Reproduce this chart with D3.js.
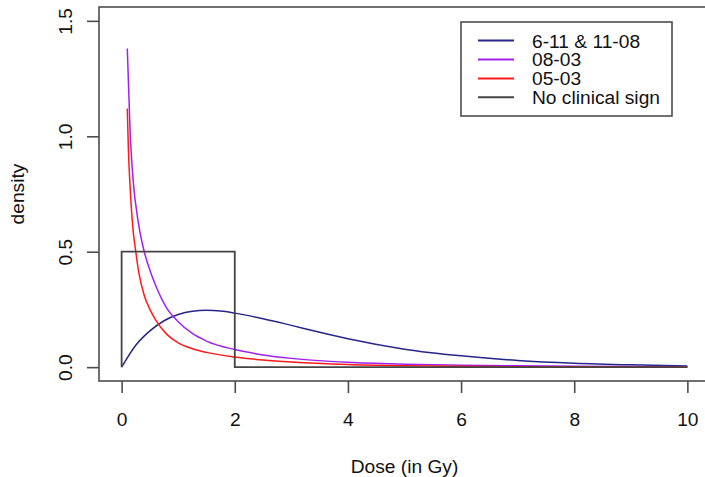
<!DOCTYPE html>
<html>
<head>
<meta charset="utf-8">
<script src="https://cdn.jsdelivr.net/npm/d3@7"></script>
<style>
  body { margin: 0; background: #fff; }
  svg { display: block; font-family: "Liberation Sans", Arial, sans-serif; }
</style>
</head>
<body>
<svg id="chart" width="705" height="477"></svg>
<script>
// values
const blueX = [0, 0.25, 0.5, 0.75, 1, 1.25, 1.5, 1.75, 2, 2.5, 3, 3.5, 4, 5, 6, 7, 8, 9, 10]
const blueY = [0, 0.095, 0.157, 0.201, 0.228, 0.242, 0.246, 0.243, 0.234, 0.21, 0.181, 0.151, 0.123, 0.078, 0.049, 0.029, 0.017, 0.01, 0.0055]

const purpleX = [0.1, 0.15, 0.2, 0.3, 0.4, 0.5, 0.6, 0.8, 1, 1.25, 1.5, 2, 2.5, 3, 4, 5, 6, 7, 8, 9, 10]
const purpleY = [1.38, 1.02, 0.82, 0.62, 0.5, 0.42, 0.355, 0.255, 0.197, 0.146, 0.113, 0.076, 0.053, 0.038, 0.021, 0.013, 0.0085, 0.0058, 0.004, 0.0028, 0.002]

const redX = [0.1, 0.12, 0.15, 0.2, 0.25, 0.3, 0.4, 0.5, 0.6, 0.8, 1, 1.25, 1.5, 2, 2.5, 3, 4, 5, 6, 7, 8, 9, 10]
const redY = [1.12, 0.94, 0.78, 0.6, 0.5, 0.415, 0.31, 0.25, 0.205, 0.142, 0.105, 0.08, 0.064, 0.044, 0.031, 0.022, 0.011, 0.006, 0.0035, 0.002, 0.0012, 0.0008, 0.0005]

const noSignX = [0, 0, 2, 2, 10]
const noSignY = [0, 0.5, 0.5, 0, 0]

const seriesNames = ["6-11 & 11-08", "08-03", "05-03", "No clinical sign"]
const seriesColors = ["#26268a", "#a020f0", "#ff1a1a", "#444444"]

const xTicks = [0, 2, 4, 6, 8, 10]
const yTicks = [0, 0.5, 1, 1.5]

const axisColor = "#4d4d4d"
const fontSize = 19.2

const svg = d3.select("#chart")

// R style: ranges padded by 4%
const x = d3.scaleLinear().domain([-0.4, 10.4]).range([99, 710])
const y = d3.scaleLinear().domain([-0.06, 1.56]).range([381, 7])

// curves
const smooth = d3.line().x(d => x(d[0])).y(d => y(d[1])).curve(d3.curveMonotoneX)
const straight = d3.line().x(d => x(d[0])).y(d => y(d[1]))

const lines = [
  { xs: blueX, ys: blueY, color: seriesColors[0], gen: smooth },
  { xs: purpleX, ys: purpleY, color: seriesColors[1], gen: smooth },
  { xs: redX, ys: redY, color: seriesColors[2], gen: smooth },
  { xs: noSignX, ys: noSignY, color: seriesColors[3], gen: straight, width: 1.8 }
]

lines.forEach(s => {
  svg.append("path")
    .datum(d3.zip(s.xs, s.ys))
    .attr("d", s.gen)
    .attr("fill", "none")
    .attr("stroke", s.color)
    .attr("stroke-width", s.width || 1.5)
})

// plot box
svg.append("rect")
  .attr("x", x.range()[0]).attr("y", y.range()[1])
  .attr("width", x.range()[1] - x.range()[0])
  .attr("height", y.range()[0] - y.range()[1])
  .attr("fill", "none").attr("stroke", axisColor).attr("stroke-width", 1.6)

// x axis
const xAxis = svg.append("g")
  .attr("transform", "translate(0," + y.range()[0] + ")")
  .call(d3.axisBottom(x).tickValues(xTicks).tickSize(12).tickSizeOuter(0).tickFormat(d3.format("d")))
xAxis.select(".domain").remove()
xAxis.selectAll("line").attr("stroke", axisColor).attr("stroke-width", 1.6)
xAxis.selectAll("text")
  .attr("y", 45).attr("dy", 0)
  .attr("fill", "#111").style("font-size", fontSize + "px")
  .style("font-family", "'Liberation Sans', Arial, sans-serif")

// y axis
const yAxis = svg.append("g")
  .attr("transform", "translate(" + x.range()[0] + ",0)")
  .call(d3.axisLeft(y).tickValues(yTicks).tickSize(12).tickSizeOuter(0).tickFormat(d3.format(".1f")))
yAxis.select(".domain").remove()
yAxis.selectAll("line").attr("stroke", axisColor).attr("stroke-width", 1.6)
yAxis.selectAll("text")
  .attr("transform", "rotate(-90)")
  .attr("x", 0).attr("y", -27).attr("dy", 0)
  .attr("text-anchor", "middle")
  .attr("fill", "#111").style("font-size", fontSize + "px")
  .style("font-family", "'Liberation Sans', Arial, sans-serif")

// axis titles
svg.append("text")
  .attr("x", (x.range()[0] + x.range()[1]) / 2).attr("y", 473)
  .attr("text-anchor", "middle").attr("fill", "#111")
  .style("font-size", fontSize + "px")
  .text("Dose (in Gy)")

svg.append("text")
  .attr("transform", "translate(24," + (y.range()[0] + y.range()[1]) / 2 + ") rotate(-90)")
  .attr("text-anchor", "middle").attr("fill", "#111")
  .style("font-size", fontSize + "px")
  .text("density")

// legend
const legend = svg.append("g")
legend.append("rect")
  .attr("x", 461).attr("y", 22).attr("width", 211).attr("height", 94)
  .attr("fill", "#fff").attr("stroke", axisColor).attr("stroke-width", 1.6)

const rows = legend.selectAll("g.row").data(seriesNames).enter().append("g")
  .attr("class", "row")
  .attr("transform", (d, i) => "translate(0," + (40.6 + i * 18.9) + ")")
rows.append("line")
  .attr("x1", 478).attr("x2", 514)
  .attr("stroke", (d, i) => seriesColors[i]).attr("stroke-width", 2)
rows.append("text")
  .attr("x", 532).attr("y", 6.9)
  .attr("fill", "#111").style("font-size", fontSize + "px")
  .text(d => d)
</script>
</body>
</html>
